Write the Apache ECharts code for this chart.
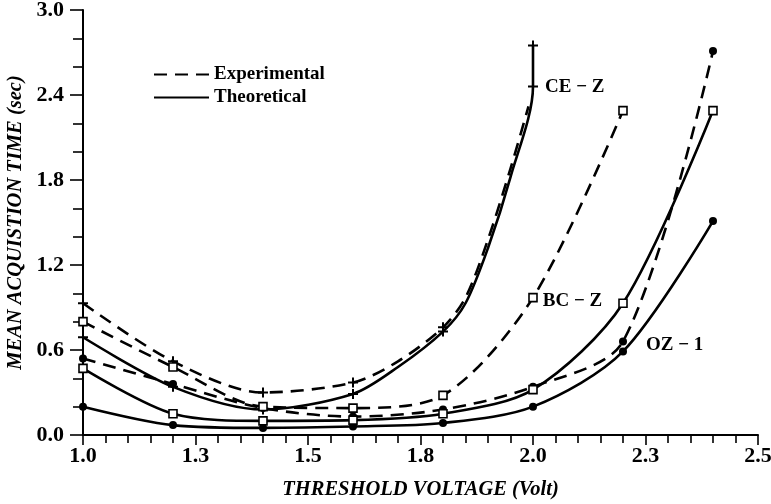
<!DOCTYPE html>
<html>
<head>
<meta charset="utf-8">
<script src="https://cdn.jsdelivr.net/npm/echarts@6/dist/echarts.min.js"></script>
<style>html,body{margin:0;padding:0;background:#fff}#c{width:771px;height:504px}</style>
</head>
<body>
<div id="c"></div>
<script>
// ---- data ----
const xTickLabels = ['1.0', '1.3', '1.5', '1.8', '2.0', '2.3', '2.5'];
const yTickLabels = ['0.0', '0.6', '1.2', '1.8', '2.4', '3.0'];
const markerX = [1.0, 1.2, 1.4, 1.6, 1.8, 2.0, 2.2, 2.4];

const ceExpX = [1.0, 1.2, 1.4, 1.6, 1.7, 1.8, 1.85, 1.9, 1.95, 1.99];
const ceExpY = [0.93, 0.52, 0.30, 0.37, 0.52, 0.76, 0.97, 1.38, 1.88, 2.32];
const ceTheX = [1.0, 1.2, 1.4, 1.6, 1.7, 1.8, 1.85, 1.9, 1.95, 2.0, 2.0];
const ceTheY = [0.69, 0.34, 0.18, 0.29, 0.48, 0.73, 0.93, 1.32, 1.82, 2.46, 2.75];

const bcExpX = [1.0, 1.2, 1.4, 1.6, 1.8, 2.0, 2.2];
const bcExpY = [0.80, 0.48, 0.20, 0.19, 0.28, 0.97, 2.29];
const bcTheX = [1.0, 1.2, 1.4, 1.6, 1.8, 2.0, 2.2, 2.4];
const bcTheY = [0.47, 0.15, 0.10, 0.105, 0.15, 0.32, 0.93, 2.29];

const ozExpX = [1.0, 1.2, 1.4, 1.6, 1.8, 2.0, 2.2, 2.4];
const ozExpY = [0.54, 0.36, 0.19, 0.13, 0.18, 0.34, 0.66, 2.71];
const ozTheX = [1.0, 1.2, 1.4, 1.6, 1.8, 2.0, 2.2, 2.4];
const ozTheY = [0.20, 0.07, 0.05, 0.06, 0.085, 0.20, 0.59, 1.51];

const curveLabels = { ce: 'CE \u2212 Z', bc: 'BC \u2212 Z', oz: 'OZ \u2212 1' };
// --------------------------------------

const FONT = '"Liberation Serif", "DejaVu Serif", serif';
const plusPath = 'path://M4,0H6V4H10V6H6V10H4V6H0V4H4Z';
const symbols = {
  ce: { symbol: plusPath, size: 10, style: { color: '#000' } },
  bc: { symbol: 'rect', size: 8, style: { color: '#fff', borderColor: '#000', borderWidth: 1.6 } },
  oz: { symbol: 'circle', size: 8, style: { color: '#000' } }
};
const DASH = [13, 8];
const LW = 2.6;

function build(xs, ys, key, labelIdx, labelOffset) {
  return xs.map((x, i) => {
    const marked = markerX.some(m => Math.abs(m - x) < 1e-9);
    const item = { value: [x, ys[i]] };
    if (!marked) item.symbol = 'none';
    if (i === labelIdx) {
      item.label = {
        show: true, position: 'right', formatter: curveLabels[key],
        fontFamily: FONT, fontWeight: 'bold', fontSize: 19, color: '#000',
        offset: labelOffset || [0, 0]
      };
    }
    return item;
  });
}

function series(name, xs, ys, key, dashed, labelIdx, labelOffset) {
  const s = symbols[key];
  return {
    name: name, type: 'line', smooth: 0.3,
    data: build(xs, ys, key, labelIdx, labelOffset),
    symbol: s.symbol, symbolSize: s.size, showAllSymbol: true,
    itemStyle: s.style,
    lineStyle: { color: '#000', width: LW, type: dashed ? DASH : 'solid' },
    z: key === 'bc' ? 3 : 2,
    silent: true, animation: false
  };
}

const option = {
  animation: false,
  backgroundColor: '#fff',
  grid: { left: 83, right: 13, top: 10, bottom: 69, containLabel: false, outerBoundsMode: 'none' },
  legend: {
    data: ['Experimental', 'Theoretical'],
    orient: 'vertical', left: 148, top: 60,
    itemWidth: 55, itemHeight: 14, itemGap: 4,
    itemStyle: { opacity: 0 },
    textStyle: { fontFamily: FONT, fontWeight: 'bold', fontSize: 19, color: '#000' },
    selectedMode: false
  },
  xAxis: {
    type: 'value', min: 1.0, max: 2.5, interval: 0.25,
    name: 'THRESHOLD VOLTAGE (Volt)', nameLocation: 'middle', nameGap: 45,
    nameTextStyle: { fontFamily: FONT, fontWeight: 'bold', fontStyle: 'italic', fontSize: 20.5, color: '#000' },
    axisLine: { show: true, lineStyle: { color: '#000', width: 2 } },
    axisTick: { show: true, length: 10, lineStyle: { color: '#000', width: 1.6 } },
    minorTick: { show: true, splitNumber: 5, length: 8, lineStyle: { color: '#000', width: 1.6 } },
    splitLine: { show: false },
    axisLabel: {
      margin: 10, fontFamily: FONT, fontWeight: 'bold', fontSize: 22, color: '#000',
      formatter: v => xTickLabels[Math.round((v - 1.0) / 0.25)]
    }
  },
  yAxis: {
    type: 'value', min: 0, max: 3.0, interval: 0.6,
    name: 'MEAN ACQUISTION TIME (sec)', nameLocation: 'middle', nameGap: 54,
    nameTextStyle: { fontFamily: FONT, fontWeight: 'bold', fontStyle: 'italic', fontSize: 20.5, color: '#000' },
    axisLine: { show: true, lineStyle: { color: '#000', width: 2 } },
    axisTick: { show: true, length: 13, lineStyle: { color: '#000', width: 1.6 } },
    minorTick: { show: true, splitNumber: 3, length: 10, lineStyle: { color: '#000', width: 1.6 } },
    splitLine: { show: false },
    axisLabel: {
      margin: 19, fontFamily: FONT, fontWeight: 'bold', fontSize: 22, color: '#000',
      formatter: v => yTickLabels[Math.round(v / 0.6)]
    }
  },
  series: [
    { name: 'Experimental', type: 'line', data: [], symbol: 'none',
      itemStyle: { color: '#000' }, lineStyle: { color: '#000', width: LW, type: DASH } },
    { name: 'Theoretical', type: 'line', data: [], symbol: 'none',
      itemStyle: { color: '#000' }, lineStyle: { color: '#000', width: LW, type: 'solid' } },
    series('CE-Z exp', ceExpX, ceExpY, 'ce', true),
    series('CE-Z theo', ceTheX, ceTheY, 'ce', false, 9, [2, 1]),
    series('BC-Z exp', bcExpX, bcExpY, 'bc', true, 5, [0, 4]),
    series('BC-Z theo', bcTheX, bcTheY, 'bc', false),
    series('OZ-1 exp', ozExpX, ozExpY, 'oz', true),
    series('OZ-1 theo', ozTheX, ozTheY, 'oz', false, 6, [14, -6])
  ]
};

const chart = echarts.init(document.getElementById('c'), null, { renderer: 'canvas' });
chart.setOption(option);
</script>
</body>
</html>
